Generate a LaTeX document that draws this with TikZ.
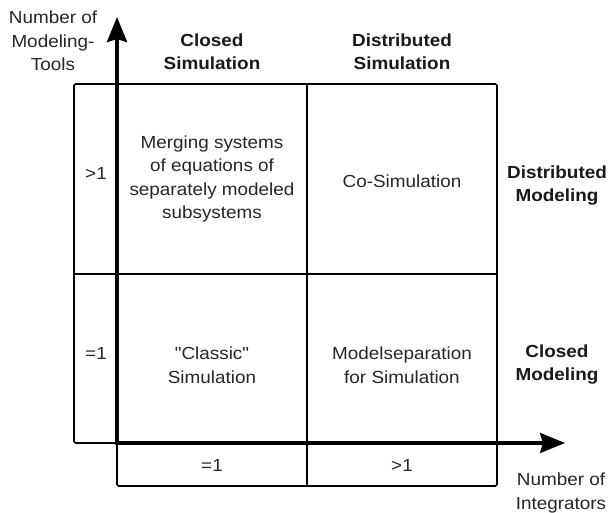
\documentclass[tikz,border=0pt]{standalone}
\usepackage{fontspec}
\setmainfont{Liberation Sans}[FakeStretch=1.08]
\newfontfamily\plainq{Liberation Sans}[FakeStretch=1.08]
\usetikzlibrary{arrows.meta}
\begin{document}
\begin{tikzpicture}[x=1pt,y=-1pt,
  txt/.style={align=center,font=\fontsize{17.5}{23.5}\selectfont,inner sep=0pt,text=black!85},
  btxt/.style={align=center,font=\fontsize{17.5}{23}\selectfont\bfseries,inner sep=0pt,text=black!90},
  gridline/.style={line width=1.6pt,rounded corners=1.5pt},
  axis/.style={line width=3.6pt,line cap=rect,-{Stealth[length=25pt,width=20pt,inset=3pt]}}]
\useasboundingbox (0,0) rectangle (608,513);
% grid
\draw[gridline] (74,84) rectangle (497,443);
\draw[gridline] (307,84) -- (307,486);
\draw[gridline] (74,274) -- (497,274);
\draw[gridline] (117,443) rectangle (497,486);
% axes
\coordinate (O) at (117,443);
\coordinate (ytip) at (117,17);
\coordinate (xtip) at (565,443);
\draw[axis] (O) -- (ytip);
\draw[axis,line width=3.2pt] (O) -- (xtip);
% axis labels
\node[txt] (ylab) at (53,41) {Number of\\Modeling-\\Tools};
\node[txt] (xlab) at (561,493) {Number of\\Integrators};
% headers
\node[btxt] (hcs) at (212,51.5) {Closed\\Simulation};
\node[btxt] (hds) at (402,51.5) {Distributed\\Simulation};
\node[btxt] (hdm) at (557,186) {Distributed\\Modeling};
\node[btxt] (hcm) at (557,365) {Closed\\Modeling};
% cells
\node[txt] (c11) at (212,179) {Merging systems\\of equations of\\separately modeled\\subsystems};
\node[txt] (c12) at (402,181) {Co-Simulation};
\node[txt] (c21) at (212,365) {{\plainq"}Classic{\plainq"}\\Simulation};
\node[txt] (c22) at (402,365) {Modelseparation\\for Simulation};
% left column
\node[txt] (l1) at (96,173) {>1};
\node[txt] (l2) at (96,353) {=1};
% bottom row
\node[txt] (b1) at (212,465) {=1};
\node[txt] (b2) at (402,465) {>1};
\end{tikzpicture}
\end{document}
